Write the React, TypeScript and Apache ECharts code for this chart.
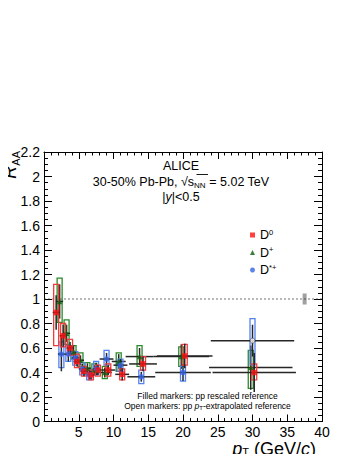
import React, { useEffect, useRef } from "react";
import * as echarts from "echarts";

// ---------- data ----------
// D0 (filled red squares)
const d0Pt = [1.5, 2.5, 3.5, 4.5, 5.5, 6.5, 7.5, 9, 11, 14, 20, 30];
const d0HalfBin = [0.5, 0.5, 0.5, 0.5, 0.5, 0.5, 0.5, 1, 1, 2, 4, 6];
const d0Raa = [0.89, 0.7, 0.6, 0.49, 0.41, 0.38, 0.42, 0.42, 0.385, 0.47, 0.535, 0.4];
const d0Stat = [0.14, 0.09, 0.05, 0.04, 0.04, 0.035, 0.04, 0.04, 0.05, 0.06, 0.1, 0.16];
const d0SysLo = [0.62, 0.61, 0.54, 0.44, 0.37, 0.34, 0.37, 0.37, 0.34, 0.42, 0.46, 0.34];
const d0SysHi = [1.12, 0.8, 0.67, 0.55, 0.45, 0.42, 0.46, 0.47, 0.43, 0.53, 0.63, 0.47];

// D+ (filled green triangles)
const dpPt = [2.5, 3.5, 4.5, 5.5, 6.5, 7.5, 9, 11, 14, 20, 30];
const dpHalfBin = [0.5, 0.5, 0.5, 0.5, 0.5, 0.5, 1, 1, 2, 4, 6];
const dpRaa = [0.98, 0.72, 0.57, 0.5, 0.435, 0.42, 0.4, 0.49, 0.53, 0.53, 0.44];
const dpStat = [0.14, 0.07, 0.05, 0.04, 0.04, 0.04, 0.04, 0.06, 0.07, 0.1, 0.18];
const dpSysLo = [0.81, 0.63, 0.51, 0.45, 0.39, 0.38, 0.35, 0.41, 0.45, 0.45, 0.27];
const dpSysHi = [1.17, 0.83, 0.62, 0.56, 0.48, 0.47, 0.45, 0.56, 0.62, 0.61, 0.58];

// D*+ (filled blue circles, pp rescaled reference)
const dsPt = [2.5, 3.5, 4.5, 5.5, 6.5, 7.5, 9, 11, 14, 20];
const dsHalfBin = [0.5, 0.5, 0.5, 0.5, 0.5, 0.5, 1, 1, 2, 4];
const dsRaa = [0.55, 0.55, 0.52, 0.43, 0.38, 0.43, 0.51, 0.46, 0.365, 0.4];
const dsStat = [0.14, 0.06, 0.05, 0.04, 0.04, 0.05, 0.05, 0.05, 0.04, 0.07];
const dsSysLo = [0.44, 0.49, 0.46, 0.38, 0.34, 0.38, 0.46, 0.41, 0.31, 0.33];
const dsSysHi = [0.65, 0.62, 0.57, 0.48, 0.42, 0.49, 0.58, 0.51, 0.42, 0.45];

// D*+ (open blue circle, pp pT-extrapolated reference)
const dsExtPt = [30];
const dsExtHalfBin = [6];
const dsExtRaa = [0.66];
const dsExtStat = [0.13];
const dsExtSysLo = [0.46];
const dsExtSysHi = [0.84];

// normalisation uncertainty box at RAA = 1
const normPt = [37.5];
const normVal = [1];
const normErr = [0.045];

const refLine = [[0, 1], [40, 1]];

const xTicks = [0, 5, 10, 15, 20, 25, 30, 35, 40];
const yTicks = [0, 0.2, 0.4, 0.6, 0.8, 1, 1.2, 1.4, 1.6, 1.8, 2, 2.2];

// ---------- styles ----------
const FONT = "'Liberation Sans', Arial, Helvetica, sans-serif";
const RED = "#ff1010";
const RED_BOX = "#f23c3c";
const GREEN = "#0b5e0b";
const GREEN_BOX = "#2a8a2a";
const BLUE = "#3464e6";
const BLUE_BOX = "#5282f2";
const BAR = "#262626";
const SHIFT_D0 = 0.25;
const SHIFT_DP = -0.25;
const SHIFT_DS = 0;

function build(pt: number[], raa: number[], stat: number[], lo: number[], hi: number[], hw: number[], shift: number) {
  return pt.map((p, i) => [p + shift, raa[i], stat[i], lo[i], hi[i], hw[i]]);
}

function errRenderer(boxColor: string) {
  return (params: any, api: any) => {
    const x = api.value(0);
    const y = api.value(1);
    const st = api.value(2);
    const lo = api.value(3);
    const hi = api.value(4);
    const hw = api.value(5);
    const c = api.coord([x, y]);
    const t = api.coord([x, y + st]);
    const b = api.coord([x, y - st]);
    const l = api.coord([x - hw, y]);
    const r = api.coord([x + hw, y]);
    const bt = api.coord([x, hi]);
    const bb = api.coord([x, lo]);
    const bw = 5;
    return {
      type: "group",
      children: [
        {
          type: "rect",
          shape: { x: c[0] - bw / 2, y: bt[1], width: bw, height: bb[1] - bt[1] },
          style: { fill: "none", stroke: boxColor, lineWidth: 1.3 },
        },
        {
          type: "line",
          shape: { x1: c[0], y1: t[1], x2: c[0], y2: b[1] },
          style: { stroke: BAR, lineWidth: 1.5 },
        },
        {
          type: "line",
          shape: { x1: l[0], y1: c[1], x2: r[0], y2: c[1] },
          style: { stroke: BAR, lineWidth: 1.5 },
        },
      ],
    };
  };
}

function normRenderer(params: any, api: any) {
  const x = api.value(0);
  const y = api.value(1);
  const e = api.value(2);
  const t = api.coord([x, y + e]);
  const b = api.coord([x, y - e]);
  return {
    type: "rect",
    shape: { x: t[0] - 2, y: t[1], width: 4, height: b[1] - t[1] },
    style: { fill: "#a0a0a0" },
  };
}

export default function App() {
  const ref = useRef<HTMLDivElement>(null);
  useEffect(() => {
    if (!ref.current) return;
    const chart = echarts.init(ref.current, undefined, { renderer: "svg" });

    const d0Data = build(d0Pt, d0Raa, d0Stat, d0SysLo, d0SysHi, d0HalfBin, SHIFT_D0);
    const dpData = build(dpPt, dpRaa, dpStat, dpSysLo, dpSysHi, dpHalfBin, SHIFT_DP);
    const dsData = build(dsPt, dsRaa, dsStat, dsSysLo, dsSysHi, dsHalfBin, SHIFT_DS);
    const dsExtData = build(dsExtPt, dsExtRaa, dsExtStat, dsExtSysLo, dsExtSysHi, dsExtHalfBin, SHIFT_DS);

    const tickStyle = { color: "#000", width: 1 };
    const xBase = {
      type: "value",
      min: xTicks[0],
      max: xTicks[xTicks.length - 1],
      interval: 5,
      splitLine: { show: false },
      axisLine: { show: true, onZero: false, lineStyle: tickStyle },
      axisTick: { show: true, inside: true, length: 7, lineStyle: tickStyle },
      minorTick: { show: true, splitNumber: 5, length: 3.5, lineStyle: tickStyle },
    };
    const yBase = {
      type: "value",
      min: yTicks[0],
      max: yTicks[yTicks.length - 1],
      interval: 0.2,
      splitLine: { show: false },
      axisLine: { show: true, onZero: false, lineStyle: tickStyle },
      axisTick: { show: true, inside: true, length: 8, lineStyle: tickStyle },
      minorTick: { show: true, splitNumber: 4, length: 4, lineStyle: tickStyle },
    };

    chart.setOption({
      animation: false,
      grid: { left: 44, right: 35, top: 152, bottom: 40.5, containLabel: false },
      xAxis: [
        {
          ...xBase,
          position: "bottom",
          axisLabel: {
            show: true,
            fontFamily: FONT,
            fontSize: 14,
            color: "#000",
            margin: 3,
            formatter: (v: number) => (v === 0 ? "" : String(v)),
          },
        },
        { ...xBase, position: "top", axisLabel: { show: false } },
      ],
      yAxis: [
        {
          ...yBase,
          position: "left",
          axisLabel: { show: true, fontFamily: FONT, fontSize: 14, color: "#000", margin: 4 },
        },
        { ...yBase, position: "right", axisLabel: { show: false } },
      ],
      legend: {
        orient: "vertical",
        left: 245,
        top: 223,
        itemWidth: 5,
        itemHeight: 5,
        itemGap: 4,
        textStyle: {
          fontFamily: FONT,
          fontSize: 12.5,
          color: "#000",
          rich: {
            b: { fontFamily: FONT, fontSize: 12.5, color: "#000", lineHeight: 14 },
            sup: { fontFamily: FONT, fontSize: 7.5, color: "#000", verticalAlign: "top", lineHeight: 5 },
          },
        },
        formatter: (name: string) => {
          if (name === "D0") return "{b|D}{sup|0}";
          if (name === "D+") return "{b|D}{sup|+}";
          return "{b|D}{sup|*+}";
        },
        data: [
          { name: "D0", icon: "rect" },
          { name: "D+", icon: "triangle" },
          { name: "D*+", icon: "circle" },
        ],
      },
      graphic: [
        {
          type: "text",
          x: 181,
          y: 166,
          style: { text: "ALICE", fontFamily: FONT, fontSize: 12.5, fill: "#000", align: "center", verticalAlign: "middle" },
        },
        {
          type: "text",
          x: 181,
          y: 182,
          style: {
            text: "{n|30-50% Pb-Pb, √s}{sub|NN}{n| = 5.02 TeV}",
            rich: {
              n: { fontFamily: FONT, fontSize: 12.5, color: "#000", lineHeight: 15 },
              sub: { fontFamily: FONT, fontSize: 8, color: "#000", verticalAlign: "bottom", lineHeight: 5 },
            },
            fill: "#000",
            align: "center",
            verticalAlign: "middle",
          },
        },
        {
          type: "line",
          shape: { x1: 196.5, y1: 174.5, x2: 208, y2: 174.5 },
          style: { stroke: "#000", lineWidth: 0.9 },
        },
        {
          type: "text",
          x: 181,
          y: 197,
          style: {
            text: "{n||}{i|y}{n||<0.5}",
            rich: {
              n: { fontFamily: FONT, fontSize: 12.5, color: "#000" },
              i: { fontFamily: FONT, fontSize: 12.5, color: "#000", fontStyle: "italic" },
            },
            fill: "#000",
            align: "center",
            verticalAlign: "middle",
          },
        },
        {
          type: "text",
          x: 207.5,
          y: 396,
          style: {
            text: "Filled markers: pp rescaled reference",
            fontFamily: FONT,
            fontSize: 8.5,
            fill: "#000",
            align: "center",
            verticalAlign: "middle",
          },
        },
        {
          type: "text",
          x: 207.5,
          y: 406,
          style: {
            text: "{n|Open markers: pp }{i|p}{s|T}{n|-extrapolated reference}",
            rich: {
              n: { fontFamily: FONT, fontSize: 8.5, color: "#000", lineHeight: 10 },
              i: { fontFamily: FONT, fontSize: 8.5, color: "#000", fontStyle: "italic", lineHeight: 10 },
              s: { fontFamily: FONT, fontSize: 6, color: "#000", verticalAlign: "bottom", lineHeight: 4 },
            },
            fill: "#000",
            align: "center",
            verticalAlign: "middle",
          },
        },
        {
          type: "text",
          x: 316,
          y: 449,
          style: {
            text: "{i|p}{s|T}{n| (GeV/}{i|c}{n|)}",
            rich: {
              n: { fontFamily: FONT, fontSize: 18, color: "#000", lineHeight: 16 },
              i: { fontFamily: FONT, fontSize: 18, color: "#000", fontStyle: "italic", lineHeight: 16 },
              s: { fontFamily: FONT, fontSize: 11, color: "#000", verticalAlign: "bottom", lineHeight: 1 },
            },
            fill: "#000",
            align: "right",
            verticalAlign: "middle",
          },
        },
        {
          type: "text",
          x: 10,
          y: 151,
          rotation: Math.PI / 2,
          style: {
            text: "{i|R}{s|AA}",
            rich: {
              i: { fontFamily: FONT, fontSize: 18, color: "#000", fontStyle: "italic", lineHeight: 22 },
              s: { fontFamily: FONT, fontSize: 11, color: "#000", verticalAlign: "bottom", lineHeight: 8 },
            },
            fill: "#000",
            align: "right",
            verticalAlign: "middle",
          },
        },
      ],
      series: [
        {
          type: "line",
          data: refLine,
          symbol: "none",
          lineStyle: { color: "#333", width: 0.7, type: [2, 2] },
          silent: true,
          z: 1,
        },
        {
          type: "custom",
          data: normPt.map((p, i) => [p, normVal[i], normErr[i]]),
          renderItem: normRenderer,
          z: 1,
        },
        { type: "custom", data: dpData, renderItem: errRenderer(GREEN_BOX), z: 2 },
        { type: "custom", data: dsData, renderItem: errRenderer(BLUE_BOX), z: 2 },
        { type: "custom", data: dsExtData, renderItem: errRenderer(BLUE_BOX), z: 2 },
        { type: "custom", data: d0Data, renderItem: errRenderer(RED_BOX), z: 2 },
        {
          name: "D+",
          type: "scatter",
          data: dpData.map((d) => [d[0], d[1]]),
          symbol: "triangle",
          symbolSize: 5.5,
          itemStyle: { color: GREEN },
          z: 4,
        },
        {
          name: "D*+",
          type: "scatter",
          data: dsData.map((d) => [d[0], d[1]]),
          symbol: "circle",
          symbolSize: 5.5,
          itemStyle: { color: BLUE },
          z: 4,
        },
        {
          type: "scatter",
          data: dsExtData.map((d) => [d[0], d[1]]),
          symbol: "circle",
          symbolSize: 5,
          itemStyle: { color: "#ffffff", borderColor: "#3a3a3a", borderWidth: 0.8 },
          z: 4,
        },
        {
          name: "D0",
          type: "scatter",
          data: d0Data.map((d) => [d[0], d[1]]),
          symbol: "rect",
          symbolSize: 5.5,
          itemStyle: { color: RED },
          z: 5,
        },
      ],
    });
    return () => chart.dispose();
  }, []);

  return <div ref={ref} style={{ width: 357, height: 462, margin: -8 }} />;
}
